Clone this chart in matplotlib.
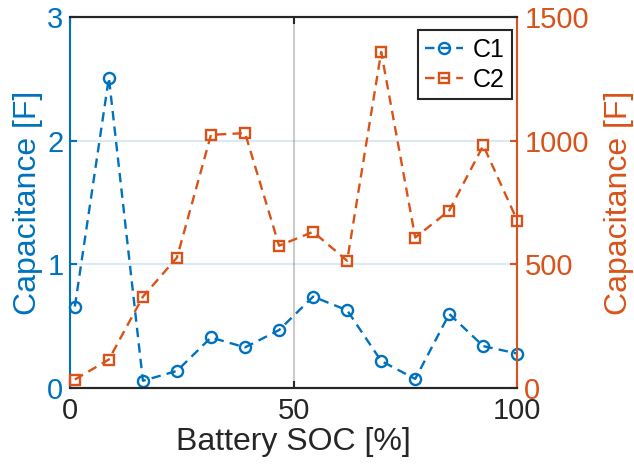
import numpy as np
import matplotlib.pyplot as plt

# datos
soc = np.linspace(1, 100, 14)
c1 = [0.66, 2.51, 0.06, 0.14, 0.41, 0.33, 0.47, 0.74, 0.63, 0.22, 0.075, 0.60, 0.34, 0.28]
c2 = [35, 116, 370, 528, 1024, 1031, 576, 632, 515, 1359, 609, 718, 981, 677]
xticks = [0, 50, 100]
y1ticks = [0, 1, 2, 3]
y2ticks = [0, 500, 1000, 1500]

BLUE = "#0072BD"
ORANGE = "#D95319"

plt.rcParams["font.family"] = ["Liberation Sans", "DejaVu Sans"]

fig = plt.figure(figsize=(6.34, 4.74), dpi=100)
ax1 = fig.add_axes([0.111, 0.181, 0.705, 0.783])
ax2 = ax1.twinx()

l1, = ax1.plot(soc, c1, "--o", color=BLUE, lw=1.7, ms=8, mfc="none", mew=1.7,
               dashes=(4, 2.6), label="C1", clip_on=False, zorder=3)
l2, = ax2.plot(soc, c2, "--s", color=ORANGE, lw=1.7, ms=7, mfc="none", mew=1.7,
               dashes=(4, 2.6), label="C2", clip_on=False, zorder=3)

ax1.set_xlim(0, 100)
ax1.set_ylim(0, 3)
ax2.set_ylim(0, 1500)
ax1.set_xticks(xticks)
ax1.set_yticks(y1ticks)
ax2.set_yticks(y2ticks)

# rejilla
ax1.grid(axis="y", color=BLUE, alpha=0.15, lw=1.5)
ax1.grid(axis="x", color="#aaaaaa", alpha=0.6, lw=1.5)
ax1.set_axisbelow(True)

# ejes y colores
for ax in (ax1, ax2):
    ax.spines["top"].set_color("#262626")
    ax.spines["bottom"].set_color("#262626")
    for s in ax.spines.values():
        s.set_linewidth(1.5)
ax1.spines["left"].set_color(BLUE)
ax1.spines["right"].set_visible(False)
ax2.spines["left"].set_visible(False)
ax2.spines["right"].set_color(ORANGE)

ax1.tick_params(axis="x", direction="in", top=True, length=5, width=1.5,
                colors="#262626", labelsize=21, pad=6)
ax1.tick_params(axis="y", direction="in", length=5, width=1.5, colors=BLUE,
                labelsize=21, pad=5)
ax2.tick_params(axis="y", direction="in", length=5, width=1.5, colors=ORANGE,
                labelsize=21, pad=5)

ax1.set_xlabel("Battery SOC [%]", fontsize=23, color="#262626", labelpad=2)
ax1.set_ylabel("Capacitance [F]", fontsize=23, color=BLUE, labelpad=3)
ax2.set_ylabel("Capacitance [F]", fontsize=23, color=ORANGE, labelpad=11)

leg = ax2.legend(handles=[l1, l2], loc="upper right", fontsize=18,
                 bbox_to_anchor=(0.988, 0.965),
                 fancybox=False, framealpha=1, edgecolor="#262626",
                 handlelength=1.5, handletextpad=0.4, borderpad=0.3,
                 labelspacing=0.25, borderaxespad=0.0)
leg.get_frame().set_linewidth(1.5)

fig.savefig("out.png", dpi=100)
